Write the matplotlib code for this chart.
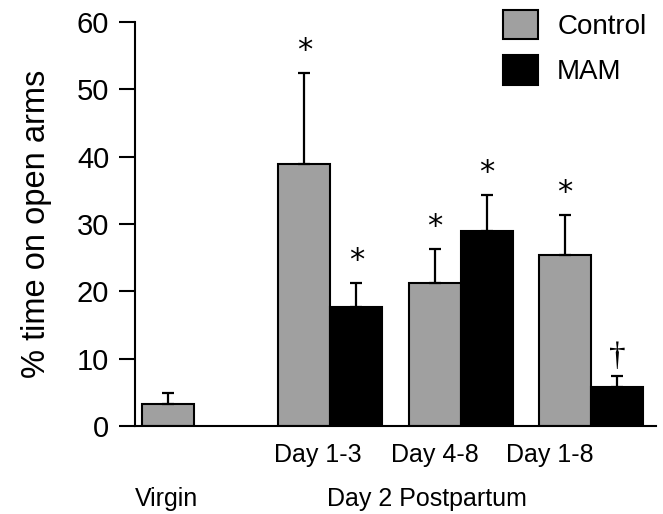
import numpy as np
import matplotlib.pyplot as plt

plt.rcParams['font.family'] = ['Liberation Sans', 'DejaVu Sans']

groups = ["Day 1-3", "Day 4-8", "Day 1-8"]
control = [38.9, 21.3, 25.4]
control_sem = [13.5, 5.0, 5.9]
mam = [17.6, 29.0, 5.8]
mam_sem = [3.6, 5.3, 1.6]
virgin = 3.3
virgin_sem = 1.6
control_marks = ["*", "*", "*"]
mam_marks = ["*", "*", "\u2020"]

gray = "#a0a0a0"
w = 0.4
x = np.arange(len(groups))

fig = plt.figure(figsize=(6.63, 5.14), dpi=100)
ax = fig.add_axes([135 / 663, 1 - 426 / 514, (656 - 135) / 663, (426 - 22) / 514])

err_kw = dict(ecolor="black", elinewidth=1.6, capsize=4.5, capthick=1.6)
ax.bar(-1.25, virgin, w, color=gray, edgecolor="black", linewidth=1.5,
       yerr=[[0], [virgin_sem]], error_kw=err_kw, label="Control")
ax.bar(x - w / 2, control, w, color=gray, edgecolor="black", linewidth=1.5,
       yerr=[np.zeros(3), control_sem], error_kw=err_kw)
ax.bar(x + w / 2, mam, w, color="black", edgecolor="black", linewidth=1.5,
       yerr=[np.zeros(3), mam_sem], error_kw=err_kw, label="MAM")


def mark(sym, xpos, top):
    if sym == "*":
        ax.annotate(sym, (xpos, top), xytext=(0, 6), textcoords="offset points",
                    ha="center", va="bottom", fontsize=22, family="DejaVu Sans")
    else:
        ax.annotate(sym, (xpos, top), xytext=(0, 3), textcoords="offset points",
                    ha="center", va="bottom", fontsize=24, family="Liberation Serif")


for i in range(len(groups)):
    mark(control_marks[i], x[i] - w / 2, control[i] + control_sem[i])
    mark(mam_marks[i], x[i] + w / 2, mam[i] + mam_sem[i])

ax.set_xlim(-1.5, 2.5)
ax.set_ylim(0, 60)
ax.set_yticks(np.arange(0, 61, 10))
ax.tick_params(axis="y", length=11.5, width=1.5, labelsize=21, pad=7)
ax.set_xticks([-0.1, 0.8, 1.685])
ax.set_xticklabels(groups)
ax.tick_params(axis="x", length=0, labelsize=18, pad=12)
for s in ["top", "right"]:
    ax.spines[s].set_visible(False)
ax.spines["left"].set_linewidth(1.5)
ax.spines["bottom"].set_linewidth(1.5)
ax.set_ylabel("% time on open arms", fontsize=23.5, labelpad=18)

ax.text(-1.26, -0.18, "Virgin", transform=ax.get_xaxis_transform(),
        ha="center", va="center", fontsize=18)
ax.text(0.74, -0.18, "Day 2 Postpartum", transform=ax.get_xaxis_transform(),
        ha="center", va="center", fontsize=18)

ax.legend(loc="upper left", bbox_to_anchor=(503 / 663, 1 - 10 / 514),
          bbox_transform=fig.transFigure, frameon=False, fontsize=20,
          handlelength=1.25, handleheight=1.25, handletextpad=0.7,
          labelspacing=0.55, borderpad=0, borderaxespad=0)

fig.savefig("out.png", dpi=100)
